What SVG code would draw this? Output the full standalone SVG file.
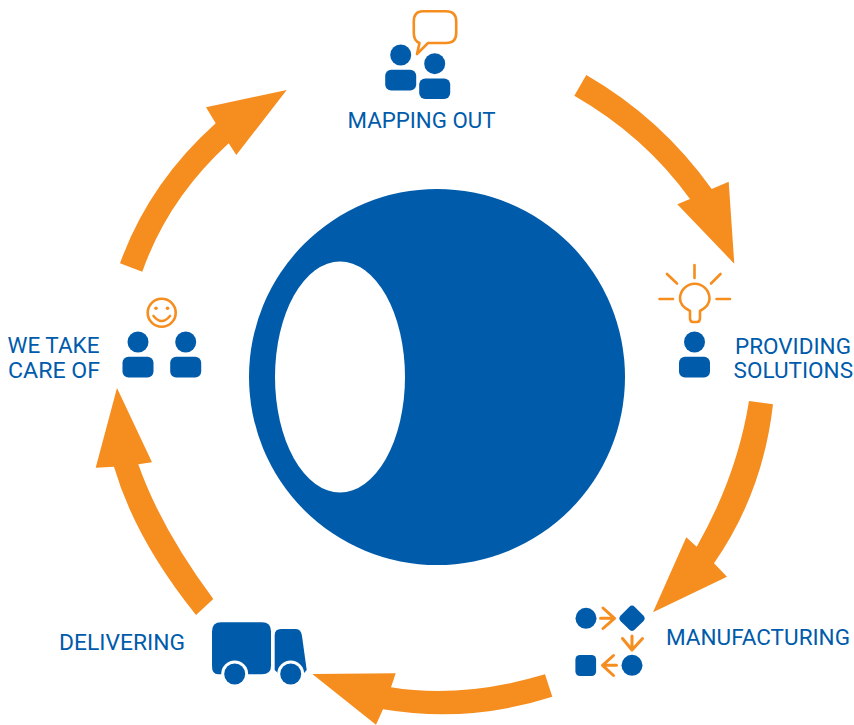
<svg xmlns="http://www.w3.org/2000/svg" width="854" height="725" viewBox="0 0 854 725">
<style>
.b{fill:#005bab}
.a{fill:#f68d1f}
.o{fill:none;stroke:#f68d1f;stroke-width:2.6;stroke-linecap:round;stroke-linejoin:round}
.m{stroke-width:3}
text{font-family:Roboto,"Liberation Sans",Arial,sans-serif;font-size:22.500px;fill:#005bab}
</style>
<defs>
<g id="p"><circle cx="0" cy="-11" r="10.500" class="b"/><rect x="-15.500" y="3.700" width="31" height="20.700" rx="6" class="b"/></g>
</defs>
<rect width="854" height="725" fill="#fff"/>
<g id="hub"><circle cx="437" cy="377" r="188" class="b"/><ellipse cx="340" cy="377" rx="65" ry="115.500" fill="#fff"/></g>
<g id="connectors">
<path class="a" d="M586.300 75Q661 118 711.700 189L728.700 181.700L734.300 263.700L677.300 204.300L690 199Q644.600 136 574.300 95.700Z"/>
<path class="a" d="M773 404.300Q763 492.800 714 563.300L727 576.700L653 612.300L686.300 537.300L696.700 546.700Q737 476 749 401Z"/>
<path class="a" d="M545 674.300Q462 699 391 687.300L395.700 673.300L312.300 674L376 724.700L383 709.300Q469 723.600 552.300 696.700Z"/>
<path class="a" d="M213.300 599Q160.800 528.300 138.300 464.300L152 462.300L117 388L95.700 467.700L114 466.700Q135 539 196 615Z"/>
<path class="a" d="M120 263.300Q148.800 183.300 215.700 123.300L206 107.300L286.700 90L236.300 155L228.700 143.300Q167.900 199 142.300 271.700Z"/>
</g>
<g id="mapping-out">
<path class="o" d="M423 11.300H446Q456.200 11.300 456.200 21.500V33Q456.200 43 446 43H428L417 54L419.500 43Q413.800 41 413.800 33V21.500Q413.800 11.300 423 11.300Z"/>
<use href="#p" x="400.700" y="66"/><use href="#p" x="434.700" y="74.700"/>
<text x="347.500" y="128.300" textLength="148" lengthAdjust="spacingAndGlyphs">MAPPING OUT</text>
</g>
<g id="providing-solutions">
<path class="o" d="M690 311V318Q690 322 693 322H697Q700 322 700 318V311Q709.500 306 709.500 298.500A14.700 14.700 0 0 0 680 298.500Q680 306 690 311Z"/>
<path class="o" d="M694.500 265V278M667 274L677 283.500M720.500 274L711 283.500M659.500 299H673M716.500 299H730"/>
<use href="#p" x="694.500" y="353"/>
<text x="851" y="354" text-anchor="end">PROVIDING</text>
<text x="853" y="377.700" text-anchor="end">SOLUTIONS</text>
</g>
<g id="manufacturing">
<circle cx="586" cy="618.300" r="10.500" class="b"/>
<rect x="622" y="608.300" width="20" height="20" rx="4" class="b" transform="rotate(45 632 618.300)"/>
<rect x="575.400" y="655" width="20.700" height="21" rx="4.500" class="b"/>
<circle cx="632" cy="665.300" r="10.500" class="b"/>
<path class="o m" d="M600.500 618.300H614.500M603 608L614.500 618.300L603 628.500M632 636V650M622.500 638.500L632 650L642.500 638.500M616.500 665.300H602.500M613.500 655.500L602.500 665.300L613.500 675.500"/>
<text x="850" y="645" text-anchor="end">MANUFACTURING</text>
</g>
<g id="delivering">
<path class="b" d="M221 622.300H262Q271 622.300 271 631.300V666Q271 674.300 262 674.300H218Q212 674.300 212 666V631.300Q212 622.300 221 622.300Z"/>
<path class="b" d="M281 629H296Q301 629 302 636L306.700 670L303 674.300H279L274.700 670V635Q274.700 629 281 629Z"/>
<circle cx="234.700" cy="674" r="13.500" fill="#fff"/><circle cx="290.700" cy="674" r="13.500" fill="#fff"/>
<circle cx="234.700" cy="674" r="10.500" class="b"/><circle cx="290.700" cy="674" r="10.500" class="b"/>
<text x="59" y="650" textLength="126" lengthAdjust="spacingAndGlyphs">DELIVERING</text>
</g>
<g id="we-take-care-of">
<circle cx="161.700" cy="312.700" r="14" class="o"/>
<circle cx="156" cy="308.300" r="1.800" fill="#f68d1f"/><circle cx="167.500" cy="308.300" r="1.800" fill="#f68d1f"/>
<path class="o" d="M153.500 316Q161.700 326 170 316"/>
<use href="#p" x="138" y="353"/><use href="#p" x="185.700" y="353"/>
<text x="7.500" y="353.300" textLength="92" lengthAdjust="spacingAndGlyphs">WE TAKE</text>
<text x="8" y="377.700" textLength="92" lengthAdjust="spacingAndGlyphs">CARE OF</text>
</g>
</svg>
